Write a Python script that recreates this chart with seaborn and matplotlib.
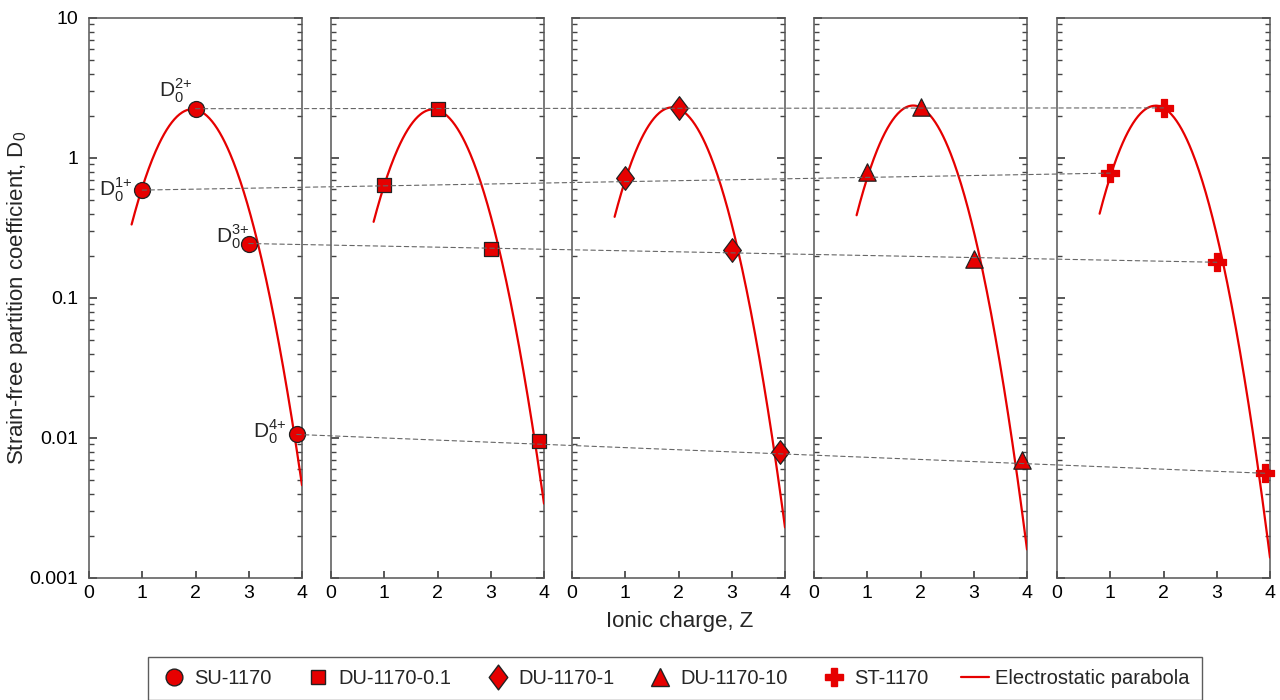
"""
Strain-free partition coefficient D0 vs ionic charge Z for five runs,
each with its fitted electrostatic parabola (log10 D0 quadratic in Z).
"""

import numpy as np
import pandas as pd
import matplotlib
matplotlib.use("Agg")
import matplotlib.pyplot as plt
from matplotlib.lines import Line2D
from matplotlib.patches import ConnectionPatch
from matplotlib.path import Path
import matplotlib.ticker as ticker
import seaborn as sns

# --- data -----------------------------------------------------------------
runs = ["SU-1170", "DU-1170-0.1", "DU-1170-1", "DU-1170-10", "ST-1170"]

charge = [1, 2, 3, 3.9]
d0_values = {
    "SU-1170":     [0.59, 2.25, 0.245, 0.0106],
    "DU-1170-0.1": [0.64, 2.25, 0.225, 0.0095],
    "DU-1170-1":   [0.72, 2.28, 0.220, 0.0080],
    "DU-1170-10":  [0.79, 2.32, 0.190, 0.0070],
    "ST-1170":     [0.78, 2.28, 0.180, 0.0056],
}

# electrostatic parabola: D0 read at three charges, quadratic in log space
curve_z = [0.8, 2.0, 4.0]
curve_d0 = {
    "SU-1170":     [0.335, 2.22, 0.0046],
    "DU-1170-0.1": [0.350, 2.20, 0.0034],
    "DU-1170-1":   [0.380, 2.25, 0.0023],
    "DU-1170-10":  [0.390, 2.30, 0.0016],
    "ST-1170":     [0.400, 2.28, 0.0014],
}

ion_labels = [r"D$_0^{1{+}}$", r"D$_0^{2{+}}$", r"D$_0^{3{+}}$", r"D$_0^{4{+}}$"]

RED = "#e60000"

# a diamond a bit wider than matplotlib's thin one
diamond = Path([(0, -1), (0.75, 0), (0, 1), (-0.75, 0), (0, -1)],
               [Path.MOVETO, Path.LINETO, Path.LINETO, Path.LINETO, Path.CLOSEPOLY])
run_markers = ["o", "s", diamond, "^", "P"]
marker_sizes = [11.5, 9.5, 17, 12.5, 13]


def is_plus(m):
    return isinstance(m, str) and m == "P"


sns.set_theme(style="ticks")
plt.rcParams["font.family"] = ["Liberation Sans", "DejaVu Sans"]
plt.rcParams["mathtext.fontset"] = "custom"
plt.rcParams["mathtext.rm"] = "Liberation Sans"

fig = plt.figure(figsize=(12.8, 7), dpi=100)
W, H = 1280, 700
lefts = [89, 331, 572, 814, 1057]
pw, top, bottom = 213, 18, 578

axes = []
for i, run in enumerate(runs):
    ax = fig.add_axes([lefts[i] / W, 1 - bottom / H, pw / W, (bottom - top) / H])
    axes.append(ax)

    # parabola through the three read values
    coef = np.polyfit(curve_z, np.log10(curve_d0[run]), 2)
    zz = np.linspace(curve_z[0], curve_z[-1], 200)
    curve = pd.DataFrame({"Z": zz, "D0": 10 ** np.polyval(coef, zz)})
    sns.lineplot(data=curve, x="Z", y="D0", ax=ax, color=RED, lw=1.6, zorder=3)

    edge = RED if is_plus(run_markers[i]) else "#222222"
    ax.scatter(charge, d0_values[run], marker=run_markers[i],
               s=marker_sizes[i] ** 2, color=RED, edgecolor=edge,
               linewidth=0.9, zorder=5, clip_on=False)

    ax.set_yscale("log")
    ax.set_ylim(0.001, 10)
    ax.set_xlim(0, 4)
    ax.set_xticks([0, 1, 2, 3, 4])
    ax.set_xlabel("")
    ax.set_ylabel("")
    ax.yaxis.set_minor_locator(ticker.LogLocator(subs=np.arange(2, 10)))
    ax.tick_params(axis="both", which="both", direction="in", colors="#444444",
                   labelcolor="black", labelsize=14)
    ax.tick_params(axis="y", which="both", left=True, right=True, pad=8)
    ax.tick_params(axis="y", which="major", length=6)
    ax.tick_params(axis="y", which="minor", length=3.5)
    ax.tick_params(axis="x", which="major", length=5, pad=5)
    for s in ax.spines.values():
        s.set_color("#555555")
        s.set_linewidth(1.1)
    if i == 0:
        ax.yaxis.set_major_formatter(ticker.FuncFormatter(lambda v, p: f"{v:g}"))
    else:
        ax.set_yticklabels([])

# dashed guides joining equal-charge points from first to last panel
for k in range(len(charge)):
    con = ConnectionPatch(xyA=(charge[k], d0_values[runs[0]][k]), coordsA=axes[0].transData,
                          xyB=(charge[k], d0_values[runs[-1]][k]), coordsB=axes[-1].transData,
                          ls=(0, (4, 3)), lw=0.8, color="#666666", zorder=2)
    fig.add_artist(con)

# ion labels in first panel
ax0 = axes[0]
offsets = [(-0.5, 0.0), (-0.38, 0.13), (-0.3, 0.05), (-0.5, 0.02)]
for k, lab in enumerate(ion_labels):
    y = d0_values[runs[0]][k] * 10 ** offsets[k][1]
    ax0.text(charge[k] + offsets[k][0], y, lab, fontsize=15, ha="center", va="center")

fig.text(680 / W, 1 - 622 / H, "Ionic charge, Z", fontsize=16, ha="center", va="center")
fig.text(18 / W, 1 - 298 / H, r"Strain-free partition coefficient, D$_0$", fontsize=16,
         rotation=90, ha="center", va="center")

handles = []
for r, m, ms in zip(runs, run_markers, marker_sizes):
    handles.append(Line2D([], [], ls="none", marker=m, markersize=ms * 1.05, color=RED,
                          markeredgecolor=(RED if is_plus(m) else "#222222"), label=r))
handles.append(Line2D([], [], color=RED, lw=1.6, label="Electrostatic parabola"))
leg = fig.legend(handles=handles, loc="upper center", ncol=6,
                 bbox_to_anchor=(675 / W, 1 - 657 / H), fontsize=14.5,
                 frameon=True, fancybox=False, edgecolor="#333333",
                 handlelength=1.4, handletextpad=0.3, columnspacing=1.6,
                 borderpad=0.6, borderaxespad=0)
leg.get_frame().set_linewidth(1.0)

fig.savefig("out.png", dpi=100)
